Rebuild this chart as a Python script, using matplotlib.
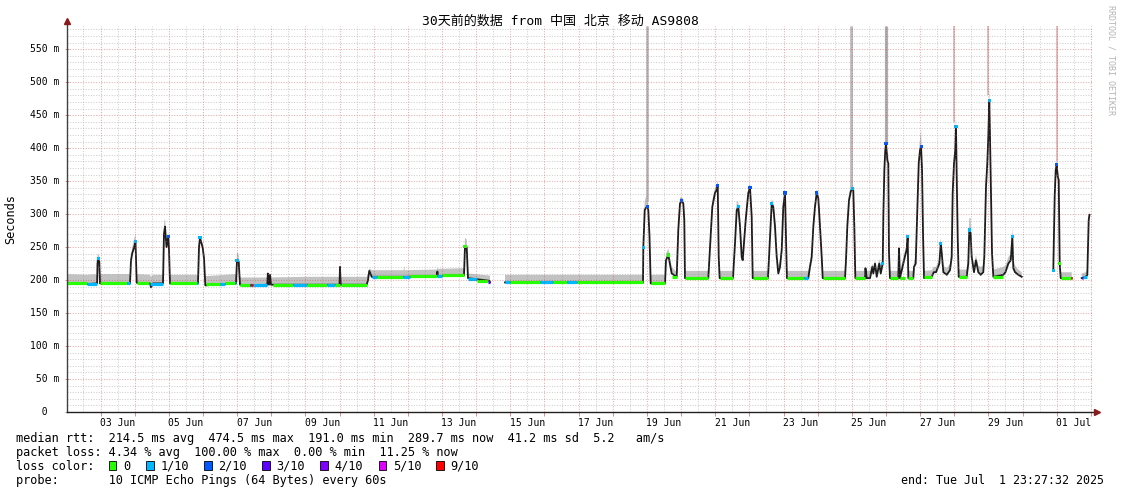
import numpy as np
import matplotlib.pyplot as plt
from matplotlib.patches import Rectangle
from matplotlib.transforms import blended_transform_factory

plt.rcParams["font.family"] = ["DejaVu Sans Mono", "Noto Sans CJK SC"]

nan = np.nan

# ── data ─────────────────────────────────────────────────────────────────────
# x: day of June 2025 (fractional, 31 = 01 Jul), y: round trip time in ms
day = [
    2.02, 2.60, 2.90, 2.912, 2.93, 2.965, 2.985,
    3.864, 3.893, 3.931, 3.981, 4.025, 4.06,
    4.449, 4.479, 4.537, 4.83, 4.859, 4.889, 4.933, 4.985, 5.006, 5.035,
    5.855, 5.884, 5.914, 5.993, 6.031, 6.069,
    6.968, 6.997, 7.047, 7.085,
    7.378, 7.884, 7.90, 7.934, 7.963, 7.993, 9.0, 9.999, 10.013, 10.034,
    10.795, 10.833, 10.871, 10.941, 11.88, 11.896, 11.91, 12.845, 12.865, 12.883,
    13.644, 13.673, 13.723, 13.761, 14.385, 14.406,
    nan,
    14.845, 15.9, 16.9, 17.9, 18.886,
    18.895, 18.936, 18.965, 19.012, 19.041, 19.076, 19.111, 19.53, 19.559, 19.627, 19.726, 19.873,
    19.919, 19.969, 20.019, 20.066, 20.095, 20.115, 20.798, 20.827, 20.868, 20.915, 20.994, 21.044, 21.074, 21.103, 21.13,
    21.521, 21.58, 21.63, 21.676, 21.726, 21.776, 21.805, 21.843, 21.893, 21.94, 21.969, 22.019, 22.069, 22.098,
    22.546, 22.605, 22.654, 22.701, 22.751, 22.801, 22.848, 22.898, 22.948, 22.994, 23.044, 23.074, 23.10,
    23.726, 23.776, 23.826, 23.873, 23.922, 23.972, 24.019, 24.069, 24.119, 24.148,
    24.801, 24.83, 24.868, 24.918, 24.968, 25.015, 25.044, 25.074, 25.103,
    25.387, 25.40, 25.437, 25.534, 25.60, 25.631, 25.68, 25.73, 25.806, 25.847, 25.906, 25.924, 25.953, 25.981, 26.002, 26.04, 26.069, 26.089, 26.118,
    26.361, 26.382, 26.411, 26.557, 26.607, 26.636, 26.655, 26.801, 26.822, 26.871, 26.901, 26.93, 26.96, 26.998, 27.028, 27.057, 27.087, 27.116,
    27.341, 27.40, 27.467, 27.564, 27.605, 27.635, 27.681, 27.781, 27.875, 27.925, 27.954, 27.993, 28.031, 28.051, 28.072, 28.101, 28.13,
    28.364, 28.411, 28.44, 28.481, 28.51, 28.578, 28.636, 28.704, 28.774, 28.85, 28.88, 28.90, 28.93, 28.968, 28.997, 29.026, 29.047, 29.076, 29.106, 29.144,
    29.437, 29.50, 29.583, 29.654, 29.701, 29.73, 29.78, 29.876, 29.975,
    nan,
    30.90, 30.941, 30.971, 31.0, 31.03, 31.059, 31.088, 31.117, 31.439,
    nan,
    31.732, 31.85, 31.896, 31.937, 31.96,
]
median_ms = [
    195, 194, 195, 225, 233, 228, 195,
    195, 230, 241, 249, 258, 196,
    195, 189, 195, 195, 270, 281, 250, 266, 246, 195,
    195, 250, 264, 249, 233, 192,
    195, 230, 228, 193,
    192, 193, 210, 193, 208, 193, 193, 193, 220, 193,
    193, 200, 214, 205, 205, 205, 205, 206, 213, 206,
    207, 251, 250, 203, 199, 197,
    nan,
    196.5, 196.5, 196.5, 196.5, 196,
    250, 306, 309, 312, 306, 266, 195, 195, 230, 238, 210, 205,
    276, 316, 321, 316, 291, 203, 203, 230, 266, 311, 332, 337, 344, 235, 203,
    203, 256, 306, 311, 281, 235, 230, 256, 291, 317, 332, 340, 296, 203,
    203, 266, 316, 311, 281, 235, 210, 220, 246, 311, 332, 261, 203,
    203, 220, 235, 281, 311, 332, 324, 281, 235, 203,
    203, 230, 281, 321, 334, 339, 336, 281, 203,
    203, 218, 203, 203, 220, 210, 225, 205, 225, 210, 225, 299, 367, 397, 407, 382, 377, 241, 203,
    203, 248, 203, 236, 246, 266, 203, 203, 220, 225, 276, 327, 377, 397, 402, 367, 266, 203,
    205, 212, 212, 225, 256, 240, 212, 208, 215, 235, 332, 377, 397, 433, 357, 266, 205,
    205, 225, 276, 271, 235, 212, 230, 212, 208, 212, 235, 279, 342, 377, 417, 473, 417, 327, 241, 205,
    208, 212, 225, 230, 266, 218, 212, 208, 205,
    nan,
    215, 327, 367, 375, 357, 352, 225, 203, 203,
    nan,
    203, 205, 208, 291, 299,
]
smoke_top_ms = [
    209, 208, 209, 238, 240, 236, 209,
    209, 236, 250, 262, 270, 209,
    208, 205, 208, 208, 285, 294, 262, 272, 258, 208,
    208, 262, 266, 255, 242, 206,
    209, 243, 238, 204,
    204, 204, 212, 204, 212, 204, 205, 205, 226, 205,
    205, 210, 218, 215, 215, 222, 215, 216, 219, 217,
    218, 264, 262, 210, 207, 206,
    nan,
    208, 208, 208, 208, 208,
    265, 320, 325, 332, 315, 280, 208, 208, 240, 248, 220, 212,
    290, 325, 326, 323, 300, 214, 214, 240, 275, 320, 340, 345, 352, 245, 214,
    214, 265, 320, 318, 295, 245, 240, 265, 300, 325, 338, 347, 305, 214,
    214, 275, 323, 318, 295, 245, 222, 230, 255, 320, 337, 270, 214,
    214, 228, 243, 290, 320, 338, 332, 290, 245, 214,
    214, 240, 290, 330, 342, 345, 343, 290, 214,
    214, 222, 214, 214, 225, 220, 230, 218, 232, 222, 235, 310, 380, 410, 417, 395, 390, 255, 214,
    214, 258, 214, 245, 255, 272, 214, 214, 228, 235, 285, 340, 390, 415, 428, 380, 275, 214,
    215, 220, 220, 232, 265, 250, 222, 218, 225, 245, 345, 390, 415, 448, 370, 275, 216,
    216, 235, 294, 294, 245, 222, 238, 222, 220, 222, 245, 290, 355, 395, 440, 493, 430, 340, 255, 216,
    220, 222, 235, 240, 280, 230, 222, 216, 212,
    nan,
    222, 340, 378, 382, 368, 360, 232, 212, 212,
    nan,
    210, 212, 215, 300, 302,
]

# single pings far above the rest (smoke reaching the top of the graph)
spike_day = [19.012, 24.968, 26.0, 27.993, 28.997, 31.0]
spike_from_ms = [320, 340, 410, 440, 480, 380]
spike_pings = [3, 3, 4, 1, 1, 1]

# median stretches coloured by packet loss (index into LOSS_LABELS)
loss_t0 = [2.02, 2.60, 2.985, 3.776, 4.069, 4.449, 5.035, 5.826, 6.089, 6.50, 6.65, 6.938,
           7.085, 7.378, 7.42, 7.466, 8.051, 8.637, 9.047, 9.632, 9.866, 10.042,
           10.949, 11.095, 11.857, 12.062, 12.852, 12.998, 13.76, 14.023, 14.346,
           14.845, 14.991, 15.870, 16.250, 16.661, 16.953,
           19.111, 19.726, 20.115, 21.13, 22.098, 23.10, 23.60, 24.148, 25.103,
           26.118, 26.411, 26.655, 27.116, 28.13, 29.144, 31.117, 31.41, 31.732, 31.76]
loss_t1 = [2.60, 2.90, 3.776, 3.864, 4.42, 4.83, 5.826, 5.855, 6.50, 6.65, 6.938, 6.968,
           7.378, 7.42, 7.466, 7.876, 8.637, 9.047, 9.632, 9.866, 9.999, 10.795,
           11.095, 11.857, 12.062, 12.852, 12.998, 13.642, 14.023, 14.346, 14.406,
           14.991, 15.870, 16.250, 16.661, 16.953, 18.886,
           19.53, 19.873, 20.798, 21.521, 22.546, 23.60, 23.726, 24.801, 25.387,
           26.361, 26.557, 26.801, 27.341, 28.364, 29.437, 31.41, 31.439, 31.76, 31.896]
loss_ms = [195, 194, 195, 195, 195, 194, 195, 195, 194, 194, 195, 195,
           193, 192, 192, 192, 193, 193, 193, 193, 193, 193,
           205, 205, 205, 206, 206, 207, 201, 199, 197,
           196.5, 196.5, 196.5, 196.5, 196.5, 196.5,
           195, 205, 203, 203, 203, 203, 203, 203, 203,
           203, 203, 203, 205, 205, 205, 203, 203, 203, 205]
loss_level = [0, 1, 0, 1, 0, 1, 0, 1, 0, 1, 0, 1,
              0, 3, 6, 1, 0, 1, 0, 1, 0, 0,
              1, 0, 1, 0, 1, 0, 1, 0, 3,
              1, 0, 1, 0, 1, 0,
              0, 0, 0, 0, 0, 0, 1, 0, 0,
              0, 0, 0, 0, 0, 0, 0, 6, 3, 1]

# single loss-coloured samples on the peaks
dot_day = [2.93, 4.025, 4.985, 5.914, 6.997, 13.673, 18.895, 19.012, 19.627, 20.019,
           21.074, 21.676, 22.019, 22.654, 23.044, 23.972, 25.015, 25.906, 26.002,
           26.636, 27.028, 27.605, 28.051, 28.44, 29.026, 29.701, 30.90, 31.0, 31.088]
dot_ms = [233, 258, 266, 264, 230, 251, 250, 312, 238, 321,
          344, 311, 340, 316, 332, 332, 339, 225, 407,
          266, 402, 256, 433, 276, 473, 266, 215, 375, 225]
dot_level = [1, 1, 2, 1, 1, 0, 1, 2, 0, 2,
             2, 1, 2, 1, 2, 2, 1, 1, 2,
             1, 2, 1, 1, 1, 1, 1, 1, 2, 0]

LOSS_LABELS = ["0", "1/10", "2/10", "3/10", "4/10", "5/10", "9/10"]
LOSS_COLORS = ["#26ff00", "#00b8ff", "#0059ff", "#5e00ff", "#7e00ff", "#dd00ff", "#ff0000"]

x_label_day = [3.5, 5.5, 7.5, 9.5, 11.5, 13.5, 15.5, 17.5, 19.5, 21.5, 23.5, 25.5, 27.5, 29.5, 31.5]
x_label_text = ["03 Jun", "05 Jun", "07 Jun", "09 Jun", "11 Jun", "13 Jun", "15 Jun", "17 Jun",
                "19 Jun", "21 Jun", "23 Jun", "25 Jun", "27 Jun", "29 Jun", "01 Jul"]
y_ticks_ms = list(range(0, 551, 50))

TITLE = "30天前的数据 from 中国 北京 移动 AS9808"
LEGEND_LINES = [
    "median rtt:  214.5 ms avg  474.5 ms max  191.0 ms min  289.7 ms now  41.2 ms sd  5.2   am/s",
    "packet loss: 4.34 % avg  100.00 % max  0.00 % min  11.25 % now",
    "loss color:",
    "probe:       10 ICMP Echo Pings (64 Bytes) every 60s",
]
END_TEXT = "end: Tue Jul  1 23:27:32 2025"

# ── figure ───────────────────────────────────────────────────────────────────
W, H = 1121, 494
X0, X1 = 2.019, 32.019
Y1 = 585.3
LEG_FS = 8.55

fig = plt.figure(figsize=(W / 100, H / 100), dpi=100, facecolor="white")
ax = fig.add_axes([67 / W, 1 - 412 / H, 1024.5 / W, 386 / H])
ax.set_xlim(X0, X1)
ax.set_ylim(0, Y1)
for s in ax.spines.values():
    s.set_visible(False)

d = np.array(day, dtype=float)
med = np.array(median_ms, dtype=float)
top = np.array(smoke_top_ms, dtype=float)

# smoke
ax.fill_between(d, med, top, color="#c2c2c2", lw=0, zorder=1)
spike_shade = {1: "#e2b6b6", 3: "#b9b9b9", 4: "#b0b0b0"}
for sd, sf, sp in zip(spike_day, spike_from_ms, spike_pings):
    ax.vlines(sd, sf, Y1, colors=spike_shade[sp], lw=0.9 + 0.35 * sp, zorder=1)

# median + loss colours
ax.plot(d, med, color="#1c1c1c", lw=1.3, zorder=2)
ax.hlines(loss_ms, loss_t0, loss_t1, colors=[LOSS_COLORS[l] for l in loss_level],
          lw=2.3, zorder=3)
ax.scatter(dot_day, dot_ms, c=[LOSS_COLORS[l] for l in dot_level], marker="s",
           s=5, linewidths=0, zorder=3)

# grid on top, rrdtool style
DOT = (0, (1, 1.5))
for v in range(10, 590, 10):
    major = v % 50 == 0
    ax.axhline(v, color="#c83232" if major else "#8c8c8c", alpha=0.4 if major else 0.42,
               lw=0.75, ls=DOT, zorder=4)
for g in np.arange(2.5, X1, 0.5):
    major = float(g).is_integer()
    ax.axvline(g, color="#c83232" if major else "#8c8c8c", alpha=0.4 if major else 0.42,
               lw=0.75, ls=DOT, zorder=4)

# ticks
ax.set_xticks(range(3, 33))
ax.tick_params(axis="x", which="major", length=3, width=0.7, color="#d89090",
               labelbottom=False)
ax.set_xticks(x_label_day, minor=True)
ax.set_xticklabels(x_label_text, minor=True, fontsize=7)
ax.tick_params(axis="x", which="minor", length=0, pad=4)
ax.set_yticks(y_ticks_ms)
ax.set_yticklabels([])
ax.tick_params(axis="y", length=3, width=0.7, color="#d89090", direction="inout")
ytrans = blended_transform_factory(ax.transAxes, ax.transData)
for v in y_ticks_ms:
    lab = f"{v:3d} m" if v else "  0"
    ax.text(-37 / 1024.5, v, lab, transform=ytrans, ha="left", va="center", fontsize=7)

# axes with arrows
ax.plot([0, 0], [0, 1.01], transform=ax.transAxes, color="#404040", lw=1,
        clip_on=False, zorder=5)
ax.plot([0, 1.0035], [0, 0], transform=ax.transAxes, color="#202020", lw=1,
        clip_on=False, zorder=5)
ax.plot([0], [1.012], transform=ax.transAxes, marker="^", ms=4, color="#8b1a1a",
        clip_on=False, zorder=6)
ax.plot([1.005], [0], transform=ax.transAxes, marker=">", ms=4, color="#8b1a1a",
        clip_on=False, zorder=6)

# texts
def fx(x):
    return x / W

def fy(y):
    return 1 - y / H

fig.text(fx(560), fy(21), TITLE, ha="center", va="center", fontsize=9.4)
fig.text(fx(11), fy(219), "Seconds", rotation=90, ha="center", va="center", fontsize=LEG_FS)
fig.text(fx(1111), fy(60), "RRDTOOL / TOBI OETIKER", rotation=270, ha="center",
         va="center", fontsize=6, color="#b4b4b4")

for i, line in enumerate(LEGEND_LINES):
    fig.text(fx(16), fy(438 + 14 * i), line, ha="left", va="center", fontsize=LEG_FS)
fig.text(fx(1104), fy(480), END_TEXT, ha="right", va="center", fontsize=8.4)

box_x = [108.5, 146, 204, 262, 320, 378.6, 436]
for bx, lab, col in zip(box_x, LOSS_LABELS, LOSS_COLORS):
    fig.add_artist(Rectangle((fx(bx), fy(470)), 7.5 / W, 9 / H, transform=fig.transFigure,
                             facecolor=col, edgecolor="#000000", lw=0.6))
    fig.text(fx(bx + 14.5), fy(466), lab, ha="left", va="center", fontsize=LEG_FS)

fig.savefig("out.png", dpi=100, facecolor="white")
